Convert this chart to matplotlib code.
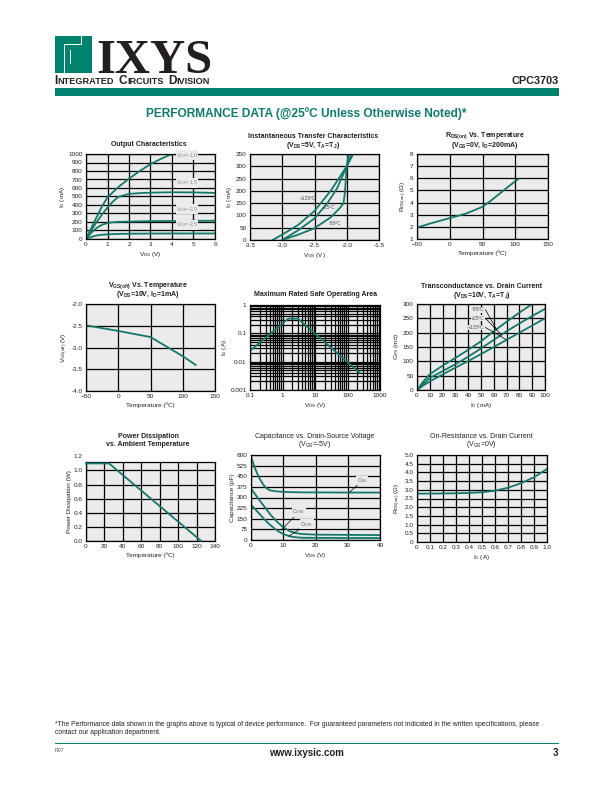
import matplotlib
matplotlib.use('Agg')
import matplotlib.pyplot as plt
from matplotlib.patches import Rectangle
from matplotlib.ticker import FixedLocator, FuncFormatter, LogLocator, NullFormatter

plt.rcParams['font.family'] = ['Liberation Sans', 'DejaVu Sans']
plt.rcParams['mathtext.default'] = 'regular'

# ---------------- data ----------------
# Output characteristics (V_DS in V, I_D in mA)
oc_vds_10 = [0, 0.25, 0.5, 0.75, 1.0, 1.5, 2.0, 2.5, 3.0, 3.5, 4.0]
oc_id_10 = [0, 130, 260, 385, 490, 610, 710, 800, 880, 945, 1000]
oc_vds = [0, 0.25, 0.5, 0.75, 1.0, 1.25, 1.5, 2.0, 2.5, 3.0, 4.0, 5.0, 6.0]
oc_id_15 = [0, 105, 200, 290, 370, 440, 495, 530, 540, 545, 550, 548, 542]
oc_id_20 = [0, 75, 130, 168, 188, 197, 201, 205, 208, 210, 212, 214, 215]
oc_id_25 = [0, 25, 42, 50, 55, 58, 60, 62, 63, 64, 65, 65, 65]
oc_labels = ['V$_{GS}$=-1.0', 'V$_{GS}$=-1.5', 'V$_{GS}$=-2.0', 'V$_{GS}$=-2.5']
oc_label_y = [985, 660, 350, 165]

# Transfer characteristics (V_GS in V, I_D in mA)
tr_vgs_125 = [-3.15, -3.0, -2.75, -2.5, -2.25, -2.0, -1.93]
tr_id_125 = [0, 22, 62, 118, 200, 300, 350]
tr_vgs_25 = [-3.0, -2.75, -2.5, -2.3, -2.15, -2.0, -1.9]
tr_id_25 = [0, 40, 88, 150, 210, 300, 350]
tr_vgs_m55 = [-3.0, -2.75, -2.5, -2.25, -2.1, -2.05, -2.03, -2.0, -1.97]
tr_id_m55 = [0, 22, 48, 92, 132, 150, 190, 300, 350]
tr_labels = ['+125ºC', '+25ºC', '-55ºC']
tr_label_x = [-2.6, -2.28, -2.18]
tr_label_y = [168, 132, 68]

# Rds(on) vs temperature
rt_temp = [-50, -25, 0, 25, 50, 65, 80, 95, 105]
rt_rds = [1.95, 2.35, 2.72, 3.1, 3.65, 4.25, 4.9, 5.55, 5.95]

# Vgs(off) vs temperature
vt_temp = [-50, 0, 50, 75, 100, 120]
vt_vgs = [-2.49, -2.62, -2.76, -2.98, -3.2, -3.4]

# Safe operating area
soa_vds = [0.1, 1.5, 3.0, 240]
soa_id = [0.024, 0.33, 0.33, 0.004]

# Transconductance vs drain current
gm_id = [0, 5, 10, 20, 30, 40, 50, 60, 70, 80, 90, 100]
gm_m55 = [0, 30, 55, 85, 112, 140, 170, 205, 238, 270, 300, None]
gm_25 = [0, 22, 42, 66, 90, 116, 145, 175, 205, 232, 258, 283]
gm_125 = [0, 16, 30, 54, 78, 101, 125, 150, 175, 200, 225, 250]
gm_labels = ['-55ºC', '+25ºC', '+125ºC']
gm_label_y = [280, 250, 218]
gm_leader_end_x = [62, 66, 70]
gm_leader_end_y = [212, 192, 175]

# Power dissipation
pd_temp = [0, 25, 125]
pd_watt = [1.1, 1.1, 0.0]

# Capacitance vs V_DS
cap_vds = [0, 1, 2, 3, 4, 5, 6, 8, 10, 12, 14, 16, 20, 30, 40]
cap_iss = [590, 520, 465, 420, 385, 362, 350, 343, 340, 338, 337, 336, 336, 335, 335]
cap_oss = [365, 332, 300, 270, 240, 210, 180, 130, 90, 62, 48, 42, 38, 36, 35]
cap_rss = [250, 225, 200, 175, 150, 127, 105, 68, 42, 26, 19, 16, 15, 14, 14]
cap_labels = ['C$_{ISS}$', 'C$_{OSS}$', 'C$_{RSS}$']
cap_label_x = [34.5, 14.8, 17.3]
cap_label_y = [420, 198, 112]
cap_leader_x0 = [30.5, 9.8, 11.8]
cap_leader_y0 = [336, 80, 28]
cap_leader_x1 = [33.4, 13.6, 16.2]
cap_leader_y1 = [395, 168, 92]

# On-resistance vs drain current
ri_id = [0, 0.1, 0.2, 0.3, 0.4, 0.5, 0.6, 0.7, 0.8, 0.9, 1.0]
ri_rds = [2.78, 2.78, 2.79, 2.8, 2.82, 2.86, 2.95, 3.12, 3.38, 3.72, 4.2]

# ---------------- figure ----------------
W, H = 612, 792
fig = plt.figure(figsize=(W / 100, H / 100), dpi=100)

TEAL = '#00826F'
CURVE = '#13786B'
BG = '#EBEBEB'
DARK = '#231F20'
TS = 4.6      # tick size
TT = 5.0      # title size

ov = fig.add_axes([0, 0, 1, 1], zorder=-5)
ov.set_xlim(0, W)
ov.set_ylim(H, 0)
ov.axis('off')


def add_ax(l, t, r, b):
    return fig.add_axes([l / W, 1 - b / H, (r - l) / W, (b - t) / H])


def style(ax, xlim, ylim, xticks, yticks, xgrid=None, ygrid=None, xfmt=None, yfmt=None):
    ax.set_facecolor(BG)
    ax.set_xlim(xlim)
    ax.set_ylim(ylim)
    ax.set_xticks(xticks)
    ax.set_yticks(yticks)
    if xgrid is not None:
        ax.xaxis.set_minor_locator(FixedLocator(xgrid))
    if ygrid is not None:
        ax.yaxis.set_minor_locator(FixedLocator(ygrid))
    ax.grid(True, which='both', color='black', lw=0.9, zorder=1)
    ax.set_axisbelow(True)
    ax.tick_params(which='both', length=0, labelsize=TS, pad=2.5, colors=DARK)
    if xfmt:
        ax.xaxis.set_major_formatter(FuncFormatter(xfmt))
    if yfmt:
        ax.yaxis.set_major_formatter(FuncFormatter(yfmt))
    for s in ax.spines.values():
        s.set_linewidth(0.9)
        s.set_color('black')


def xlab(ax, s):
    ax.set_xlabel(s, fontsize=TS, labelpad=2, color=DARK)


def ylab(ax, s):
    ax.set_ylabel(s, fontsize=TS, labelpad=1, color=DARK)


def title(cx, ys, lines, bold=True):
    for y, s in zip(ys, lines):
        ov.text(cx, y, s, ha='center', va='center', fontsize=TT,
                fontweight='bold' if bold else 'normal', color=DARK)


lw = 1.3
f1 = lambda v, p: f'{v:.1f}'
f0 = lambda v, p: f'{v:g}'

# 1 Output characteristics
ax = add_ax(86, 154, 215, 239)
style(ax, (0, 6), (0, 1000), range(0, 7), range(0, 1001, 100))
ax.plot(oc_vds_10, oc_id_10, color=CURVE, lw=lw)
for ys in (oc_id_15, oc_id_20, oc_id_25):
    ax.plot(oc_vds, ys, color=CURVE, lw=lw)
for s, y in zip(oc_labels, oc_label_y):
    ax.text(4.7, y, s, fontsize=3.6, color='#8a8a8a', ha='center', va='center',
            bbox=dict(fc=BG, ec='none', pad=0.3))
xlab(ax, 'V$_{DS}$ (V)')
ylab(ax, 'I$_D$ (mA)')
title(149, [145], ['Output Characteristics'])

# 2 Transfer
ax = add_ax(250, 154, 379, 240)
style(ax, (-3.5, -1.5), (0, 350), [-3.5, -3.0, -2.5, -2.0, -1.5], range(0, 351, 50), xfmt=f1)
ax.plot(tr_vgs_125, tr_id_125, color=CURVE, lw=lw)
ax.plot(tr_vgs_25, tr_id_25, color=CURVE, lw=lw)
ax.plot(tr_vgs_m55, tr_id_m55, color=CURVE, lw=lw)
for s, x, y in zip(tr_labels, tr_label_x, tr_label_y):
    ax.text(x, y, s, fontsize=3.6, color='#555555', ha='center', va='center')
xlab(ax, 'V$_{GS}$ (V)')
ylab(ax, 'I$_D$ (mA)')
title(313, [136, 145.5], ['Instantaneous Transfer Characteristics', '(V$_{DS}$=5V, T$_A$=T$_J$)'])

# 3 Rds(on) vs temperature
ax = add_ax(417, 154, 548, 239)
style(ax, (-50, 150), (1, 8), [-50, 0, 50, 100, 150], range(1, 9))
ax.plot(rt_temp, rt_rds, color=CURVE, lw=lw)
xlab(ax, 'Temperature (ºC)')
ylab(ax, 'R$_{DS(on)}$ (Ω)')
title(485, [136, 145.5], ['R$_{DS(on)}$ Vs. Temperature', '(V$_{GS}$=0V, I$_D$=200mA)'])

# 4 Vgs(off) vs temperature
ax = add_ax(86, 304, 215, 391)
style(ax, (-50, 150), (-4.0, -2.0), [-50, 0, 50, 100, 150], [-4.0, -3.5, -3.0, -2.5, -2.0], yfmt=f1)
ax.plot(vt_temp, vt_vgs, color=CURVE, lw=lw)
xlab(ax, 'Temperature (ºC)')
ylab(ax, 'V$_{GS(off)}$ (V)')
title(148, [286, 295], ['V$_{GS(off)}$ Vs. Temperature', '(V$_{DS}$=10V, I$_D$=1mA)'])

# 5 SOA
ax = add_ax(250, 305, 380, 390)
ax.set_xscale('log')
ax.set_yscale('log')
ax.set_facecolor(BG)
ax.set_xlim(0.1, 1000)
ax.set_ylim(0.001, 1)
ax.xaxis.set_major_locator(FixedLocator([0.1, 1, 10, 100, 1000]))
ax.yaxis.set_major_locator(FixedLocator([0.001, 0.01, 0.1, 1]))
ax.xaxis.set_minor_locator(LogLocator(base=10, subs=range(2, 10), numticks=20))
ax.yaxis.set_minor_locator(LogLocator(base=10, subs=range(2, 10), numticks=20))
ax.xaxis.set_minor_formatter(NullFormatter())
ax.yaxis.set_minor_formatter(NullFormatter())
ax.xaxis.set_major_formatter(FuncFormatter(f0))
ax.yaxis.set_major_formatter(FuncFormatter(f0))
ax.grid(True, which='both', color='black', lw=0.9)
ax.set_axisbelow(True)
ax.tick_params(which='both', length=0, labelsize=TS, pad=2.5, colors=DARK)
for s in ax.spines.values():
    s.set_linewidth(0.9)
ax.plot(soa_vds, soa_id, color=CURVE, lw=lw)
xlab(ax, 'V$_{DS}$ (V)')
ylab(ax, 'I$_D$ (A)')
title(315, [295], ['Maximum Rated Safe Operating Area'])

# 6 Transconductance
ax = add_ax(417, 304, 545, 390)
style(ax, (0, 100), (0, 300), range(0, 101, 10), range(0, 301, 50))
ax.plot(gm_id[:-1], gm_m55[:-1], color=CURVE, lw=lw)
ax.plot(gm_id, gm_25, color=CURVE, lw=lw)
ax.plot(gm_id, gm_125, color=CURVE, lw=lw)
for s, y, ex, ey in zip(gm_labels, gm_label_y, gm_leader_end_x, gm_leader_end_y):
    ax.text(53, y, s, fontsize=3.6, color='#555555', ha='right', va='center',
            bbox=dict(fc=BG, ec='none', pad=0.3))
    ax.plot([53.5, ex], [y, ey], color='black', lw=0.5)
xlab(ax, 'I$_D$ (mA)')
ylab(ax, 'G$_{FS}$ (m℧)')
title(482, [286, 295.5], ['Transconductance vs. Drain Current', '(V$_{DS}$=10V, T$_A$=T$_J$)'])

# 7 Power dissipation
ax = add_ax(86, 462, 215, 541)
style(ax, (0, 140), (0, 1.12), range(0, 141, 20), [0, 0.2, 0.4, 0.6, 0.8, 1.0], yfmt=f1)
ax.plot(pd_temp, pd_watt, color=CURVE, lw=lw, clip_on=False, zorder=5)
trf, va, ha = ax.get_yaxis_text1_transform(2.5)
ax.text(0, 1.2, '1.2', transform=trf, va='center', ha='right', fontsize=TS, color=DARK)
xlab(ax, 'Temperature (ºC)')
ylab(ax, 'Power Dissipation (W)')
title(148, [436, 445], ['Power Dissipation', 'vs. Ambient Temperature'])

# 8 Capacitance
ax = add_ax(251, 455, 380, 540)
style(ax, (0, 40), (0, 600), range(0, 41, 10), range(0, 601, 75))
ax.plot(cap_vds, cap_iss, color=CURVE, lw=lw)
ax.plot(cap_vds, cap_oss, color=CURVE, lw=lw)
ax.plot(cap_vds, cap_rss, color=CURVE, lw=lw)
for s, x, y, x0, y0, x1, y1 in zip(cap_labels, cap_label_x, cap_label_y,
                                   cap_leader_x0, cap_leader_y0, cap_leader_x1, cap_leader_y1):
    ax.plot([x0, x1], [y0, y1], color='black', lw=0.5)
    ax.text(x, y, s, fontsize=3.6, color='#666666', ha='center', va='center',
            bbox=dict(fc=BG, ec='none', pad=0.3))
xlab(ax, 'V$_{DS}$ (V)')
ylab(ax, 'Capacitance (pF)')
title(315, [436, 445], ['Capacitance vs. Drain-Source Voltage', '(V$_{GS}$=-5V)'], bold=False)

# 9 On-resistance vs drain current
ax = add_ax(417, 455, 547, 542)
style(ax, (0, 1.0), (0, 5.0), [i / 10 for i in range(11)], [i / 2 for i in range(11)],
      xfmt=lambda v, p: '0' if v == 0 else f'{v:.1f}', yfmt=lambda v, p: '0' if v == 0 else f'{v:.1f}')
ax.plot(ri_id, ri_rds, color=CURVE, lw=lw)
xlab(ax, 'I$_D$ (A)')
ylab(ax, 'R$_{DS(on)}$ (Ω)')
title(481, [436, 445], ['On-Resistance vs. Drain Current', '(V$_{GS}$=0V)'], bold=False)

# ---------------- header ----------------
# logo squares
ov.add_patch(Rectangle((54.6, 35.5), 37.4, 37.2, fc=TEAL, ec='none'))
ov.add_patch(Rectangle((64.0, 44.0), 0.9, 28.7, fc='white', ec='none'))
ov.add_patch(Rectangle((54.6, 62.5), 9.4, 0.9, fc='white', ec='none'))
ov.add_patch(Rectangle((64.0, 44.0), 18, 0.9, fc='white', ec='none'))
ov.add_patch(Rectangle((70.0, 49.5), 12.0, 0.9, fc='white', ec='none'))
ov.add_patch(Rectangle((70.0, 49.5), 0.9, 14.5, fc='white', ec='none'))
ov.add_patch(Rectangle((81.1, 35.5), 0.9, 9.0, fc='white', ec='none'))
ov.text(96, 72.7, 'IXYS', fontsize=35, fontweight='bold', family='Liberation Serif',
        color=DARK, ha='left', va='baseline')

rend = fig.canvas.get_renderer()
cx = 54.6
for word in ['Integrated', 'Circuits', 'Division']:
    for part, sz in [(word[0].upper(), 8.6), (word[1:].upper(), 6.6)]:
        t = ov.text(cx, 84, part, fontsize=sz, fontweight='bold', color=DARK,
                    ha='left', va='baseline')
        cx += t.get_window_extent(rend).width
    cx += 4.5
ov.text(559, 84, 'CPC3703', fontsize=7.8, fontweight='bold', color=DARK, ha='right', va='baseline')
ov.add_patch(Rectangle((54.6, 88.3), 504.4, 7.4, fc=TEAL, ec='none'))
ov.text(306, 114, 'PERFORMANCE DATA (@25ºC Unless Otherwise Noted)*', fontsize=8.6,
        fontweight='bold', color='#0F7A6A', ha='center', va='center')

# ---------------- footer ----------------
ov.text(54.6, 725, '*The Performance data shown in the graphs above is typical of device performance.  '
        'For guaranteed parameters not indicated in the written specifications, please',
        fontsize=4.85, color=DARK, ha='left', va='center')
ov.text(54.6, 733, 'contact our application department.', fontsize=4.85, color=DARK, ha='left', va='center')
ov.add_patch(Rectangle((54.6, 742.5), 504.4, 1.2, fc=TEAL, ec='none'))
ov.text(54.6, 751, 'R07', fontsize=3.8, color='#555555', ha='left', va='center')
ov.text(306, 753, 'www.ixysic.com', fontsize=7, fontweight='bold', color=DARK, ha='center', va='center')
ov.text(558, 753, '3', fontsize=7, fontweight='bold', color=DARK, ha='right', va='center')

fig.savefig('out.png', dpi=100)
